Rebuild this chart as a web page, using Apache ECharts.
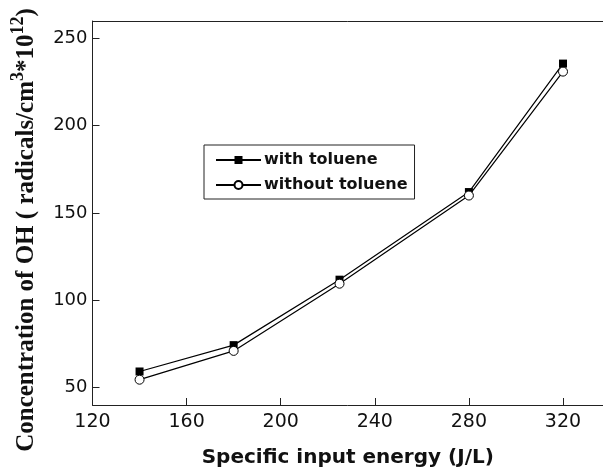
<!DOCTYPE html>
<html><head><meta charset="utf-8">
<script src="https://cdn.jsdelivr.net/npm/echarts@6/dist/echarts.min.js"></script>
<style>html,body{margin:0;padding:0;background:#fff}#c{width:603px;height:473px}</style>
</head><body><div id="c"></div>
<script>
const energy = [140, 180, 225, 280, 320];
const withToluene = [59.2, 74.3, 111.8, 162.0, 235.6];
const withoutToluene = [54.5, 71.0, 109.5, 160.0, 231.0];
const xTicks = [120, 160, 200, 240, 280, 320];
const yTicks = [50, 100, 150, 200, 250];
const seriesNames = ['with toluene', 'without toluene'];
const xTitle = 'Specific input energy (J/L)';

const chart = echarts.init(document.getElementById('c'), null, {renderer: 'canvas'});
const axisColor = '#222';
chart.setOption({
  animation: false,
  backgroundColor: '#fff',
  grid: {left: 92.5, top: 21, right: 0, bottom: 67.5, show: false},
  xAxis: [{
    type: 'value', min: 120, max: 337,
    name: xTitle, nameLocation: 'middle', nameGap: 43,
    nameTextStyle: {fontFamily: 'DejaVu Sans', fontWeight: 'bold', fontSize: 20, color: '#111'},
    axisLine: {show: true, lineStyle: {color: axisColor, width: 1}},
    axisTick: {show: true, inside: true, length: 7, customValues: xTicks, lineStyle: {color: axisColor}},
    axisLabel: {customValues: xTicks, fontFamily: 'DejaVu Sans', fontSize: 19, color: '#111', margin: 8},
    splitLine: {show: false}
  }, {
    type: 'value', min: 120, max: 337, position: 'top',
    axisLine: {show: true, lineStyle: {color: axisColor, width: 1}},
    axisTick: {show: false}, axisLabel: {show: false}, splitLine: {show: false}
  }],
  yAxis: {
    type: 'value', min: 40, max: 260,
    axisLine: {show: true, lineStyle: {color: axisColor, width: 1}},
    axisTick: {show: true, inside: true, length: 7, customValues: yTicks, lineStyle: {color: axisColor}},
    axisLabel: {customValues: yTicks, fontFamily: 'DejaVu Sans', fontSize: 18, color: '#111', margin: 5},
    splitLine: {show: false}
  },
  legend: {
    left: 204, top: 145, orient: 'vertical',
    padding: [7, 7, 6, 11], itemGap: 9, itemWidth: 45, itemHeight: 10,
    borderColor: '#222', borderWidth: 1, backgroundColor: '#fff',
    textStyle: {fontFamily: 'DejaVu Sans', fontWeight: 'bold', fontSize: 16, color: '#111', lineHeight: 16, padding: [0, 0, 0, -2]},
    data: seriesNames
  },
  graphic: [{
    type: 'text', x: 24, y: 230, rotation: Math.PI / 2,
    style: {
      text: '{a|Concentration of OH ( radicals/cm}{s|3}{a|*10}{s|12}{a|)}',
      align: 'center', verticalAlign: 'middle',
      rich: {
        a: {fontFamily: 'Liberation Serif', fontWeight: 'bold', fontSize: 25, fill: '#111', lineHeight: 30, verticalAlign: 'bottom'},
        s: {fontFamily: 'Liberation Serif', fontWeight: 'bold', fontSize: 18, fill: '#111', verticalAlign: 'top'}
      }
    }
  }],
  series: [
    {
      name: seriesNames[0], type: 'line',
      data: energy.map((x, i) => [x, withToluene[i]]),
      symbol: 'rect', symbolSize: 8,
      lineStyle: {color: '#000', width: 1.2},
      itemStyle: {color: '#000', borderColor: '#000', borderWidth: 0}
    },
    {
      name: seriesNames[1], type: 'line',
      data: energy.map((x, i) => [x, withoutToluene[i]]),
      symbol: 'circle', symbolSize: 9,
      lineStyle: {color: '#000', width: 1.2},
      itemStyle: {color: '#fff', borderColor: '#000', borderWidth: 1}
    }
  ]
});
</script></body></html>
